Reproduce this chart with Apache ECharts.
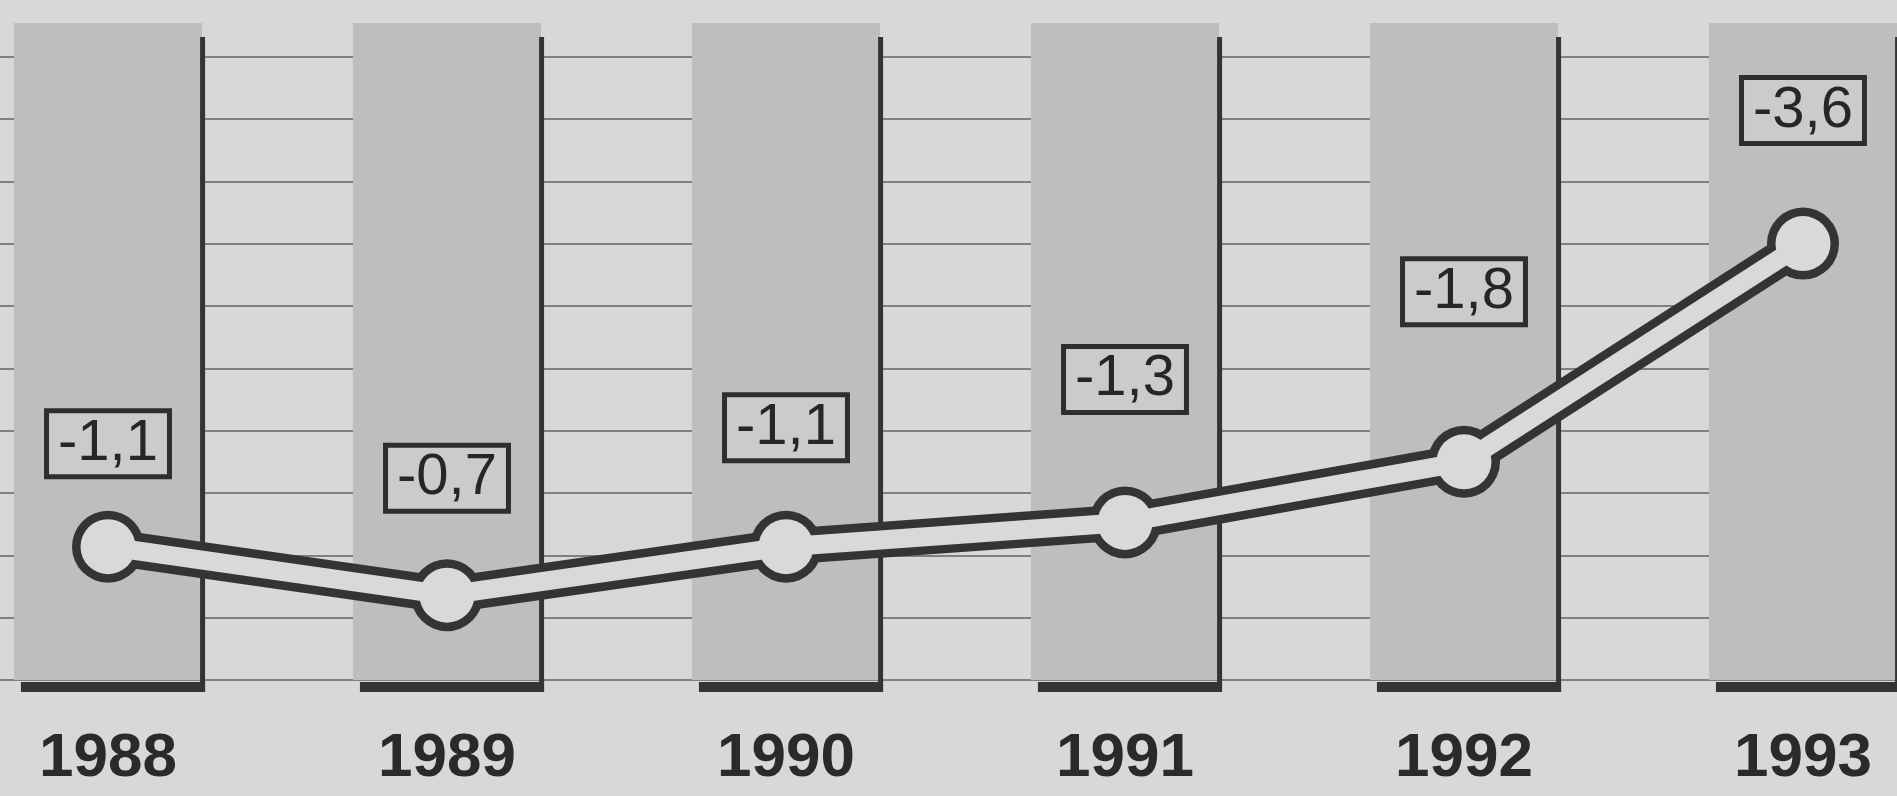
<!DOCTYPE html>
<html>
<head>
<meta charset="utf-8">
<title>Saldo 1988-1993</title>
<script src="https://cdn.jsdelivr.net/npm/echarts@6/dist/echarts.min.js"></script>
<style>
  html, body { margin: 0; padding: 0; background: #d8d8d8; }
  #chart { width: 1897px; height: 796px; }
</style>
</head>
<body>
<div id="chart"></div>
<script>
// data
var years = ['1988', '1989', '1990', '1991', '1992', '1993']
var balance = [-1.1, -0.7, -1.1, -1.3, -1.8, -3.6]

// the print is cropped: first column starts near the left edge, last one runs off the right
var xFrom = -0.3186
var xTo = 5.2773

// decorative scale: the printed grid has 10 equal steps under the columns
var axisTop = 5.42
var gridStep = 0.514

// how far each value box sits above its dot (px), as in the print
var labelLift = [103, 117, 119, 143, 170, 133]

var dark = '#343434'
var light = '#d9d9d9'
var fontFamily = '"Liberation Sans", Arial, Helvetica, sans-serif'

var chart = echarts.init(document.getElementById('chart'))

function fmt (v) {
  return v.toFixed(1).replace('.', ',')
}

// grey column + right stem + heavy foot for every year
function renderColumn (params, api) {
  var base = api.coord([api.value(0), 0])
  var band = api.size([1, 0])[0]
  var colW = band * 0.555
  var left = base[0] - colW / 2
  var top = params.coordSys.y
  return {
    type: 'group',
    children: [
      {
        type: 'rect',
        shape: { x: left, y: top, width: colW, height: base[1] - top },
        style: { fill: '#bebebe' }
      },
      {
        type: 'rect',
        shape: { x: left + colW - 2, y: top + 14, width: 5, height: base[1] - top - 2 },
        style: { fill: dark }
      },
      {
        type: 'rect',
        shape: { x: left + 7, y: base[1] + 2, width: colW - 4, height: 10 },
        style: { fill: dark }
      }
    ]
  }
}

var points = balance.map(function (v, i) { return [i, v] })

chart.setOption({
  backgroundColor: '#d8d8d8',
  animation: false,
  grid: {
    left: 0,
    right: 0,
    top: 23,
    bottom: 116
  },
  xAxis: {
    type: 'value',
    min: xFrom,
    max: xTo,
    axisLine: { show: false },
    axisTick: { show: false },
    splitLine: { show: false },
    axisLabel: {
      customValues: years.map(function (y, i) { return i }),
      formatter: function (v) { return years[Math.round(v)] },
      margin: 48,
      color: '#2a2a2a',
      fontSize: 62,
      fontWeight: 'bold',
      fontFamily: fontFamily,
      lineHeight: 62
    }
  },
  yAxis: [
    {
      // values: more negative goes up
      type: 'value',
      inverse: true,
      min: -axisTop,
      max: 0,
      show: false
    },
    {
      // only for the horizontal rules
      type: 'value',
      min: 0,
      max: axisTop,
      interval: gridStep,
      axisLine: { show: false },
      axisTick: { show: false },
      axisLabel: { show: false },
      splitLine: {
        show: true,
        showMaxLine: false,
        lineStyle: { color: '#808080', width: 2 }
      }
    }
  ],
  series: [
    {
      type: 'custom',
      yAxisIndex: 0,
      silent: true,
      z: 1,
      renderItem: renderColumn,
      data: points
    },
    {
      // dark outline of the line and dots
      type: 'line',
      yAxisIndex: 0,
      z: 3,
      silent: true,
      data: points,
      symbol: 'circle',
      symbolSize: 72,
      itemStyle: { color: dark },
      lineStyle: { color: dark, width: 36, cap: 'round', join: 'round' }
    },
    {
      // light core on top
      type: 'line',
      yAxisIndex: 0,
      z: 4,
      silent: true,
      symbol: 'circle',
      symbolSize: 55,
      itemStyle: { color: light },
      lineStyle: { color: light, width: 19, cap: 'round', join: 'round' },
      data: points.map(function (p, i) {
        return {
          value: p,
          label: { offset: [0, -labelLift[i]] }
        }
      }),
      label: {
        show: true,
        position: 'inside',
        formatter: function (p) { return fmt(p.value[1]) },
        color: '#262626',
        fontSize: 58,
        fontFamily: fontFamily,
        lineHeight: 58,
        backgroundColor: '#cbcbcb',
        borderColor: '#2e2e2e',
        borderWidth: 5,
        padding: [3, 9, 0, 9]
      }
    }
  ]
})
</script>
</body>
</html>
